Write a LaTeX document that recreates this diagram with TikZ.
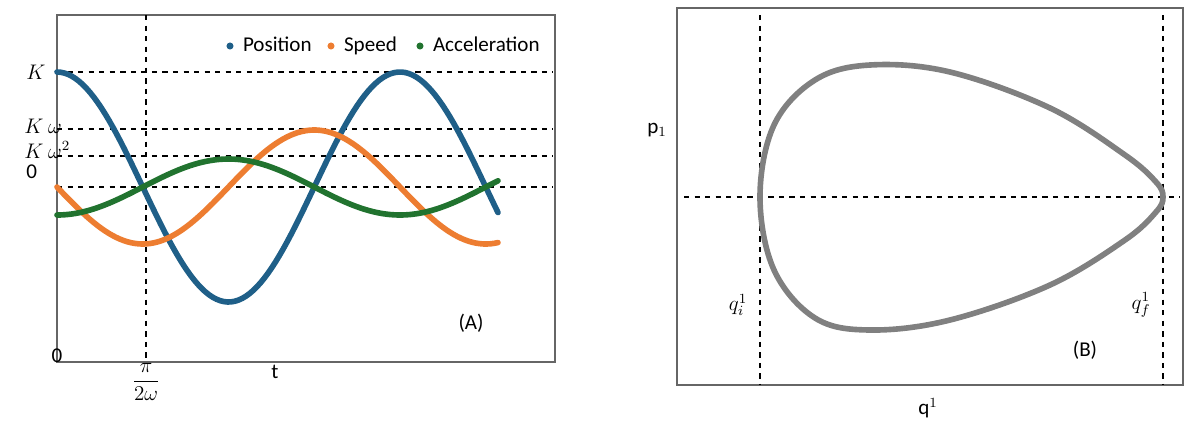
\documentclass[tikz,border=0pt]{standalone}
\usepackage{amsmath}
\usepackage{fontspec}
\setmainfont{Carlito}
\usetikzlibrary{positioning}
\definecolor{posblue}{HTML}{1F5F88}
\definecolor{spdorange}{HTML}{ED7D31}
\definecolor{accgreen}{HTML}{21732F}
\tikzset{
    guide/.style = {dashed, black, line width=0.9pt},
    frame/.style = {draw=black!60, line width=0.6pt},
    curve/.style = {line width=3.2pt, line cap=round},
    textnode/.style = {draw=none, fill=none, inner sep=0pt, font=\large},
    legtext/.style = {textnode, text height=1.6ex, text depth=0.4ex},
    legdot/.style = {circle, fill, inner sep=0pt, minimum size=4pt}
}
\begin{document}
\begin{tikzpicture}[x=0.02cm, y=-0.02cm]
    \useasboundingbox (0,0) rectangle (1200,434);

    % panel (A)
    \draw [frame] (57,15) rectangle (555,362);
    \foreach \yy in {72,129,156,187}
        \draw [guide] (57,\yy) -- (553,\yy);
    \coordinate (vtop) at (146,15);
    \coordinate (vbot) at (146,395);
    \draw [guide] (vtop) -- (vbot);

    \draw [curve, posblue] plot[domain=57:498, samples=120] (\x, {187-115*cos(deg((\x-57)/343*2*pi))});
    \draw [curve, spdorange] plot[domain=57:498, samples=120] (\x, {187+57*sin(deg((\x-57)/343*2*pi))});
    \draw [curve, accgreen] plot[domain=57:498, samples=120] (\x, {187+28*cos(deg((\x-57)/343*2*pi))});

    \node [textnode, anchor=west, name=lK] at (26,72) {$K$};
    \node [textnode, anchor=west, name=lKw] at (24,126) {$K\ \omega$};
    \node [textnode, anchor=west, name=lKww] at (24,150) {$K\ \omega^2$};
    \node [textnode, anchor=west, name=lzero] at (26,172) {0};
    \node [textnode, name=lorig] at (57,356) {0};
    \node [textnode, fill=white, name=lpi] at (146,382) {$\dfrac{\pi}{2\omega}$};
    \node [textnode, name=lt] at (275,372) {t};
    \node [textnode, name=lA] at (471,323) {(A)};

    \node [legdot, posblue, name=dpos] at (230,46) {};
    \node [legtext, right=5pt of dpos] (tpos) {Position};
    \node [legdot, spdorange, name=dspd] at (331,46) {};
    \node [legtext, right=5pt of dspd] (tspd) {Speed};
    \node [legdot, accgreen, name=dacc] at (420,46) {};
    \node [legtext, right=5pt of dacc] (tacc) {Acceleration};

    % panel (B)
    \draw [frame] (677,8) rectangle (1183,385);
    \coordinate (hl) at (684,197);
    \coordinate (hr) at (1180,197);
    \draw [guide] (hl) -- (hr);
    \coordinate (qitop) at (760,15);
    \coordinate (qibot) at (760,385);
    \draw [guide] (qitop) -- (qibot);
    \coordinate (qftop) at (1163,15);
    \coordinate (qfbot) at (1163,385);
    \draw [guide] (qftop) -- (qfbot);

    \draw [line width=3.2pt, black!50] plot[smooth cycle, tension=0.6] coordinates {
        (760,197) (774,125) (815,80) (870,65) (950,72) (1050,108) (1125,155) (1156,182) (1163,197)
        (1156,212) (1125,240) (1050,285) (950,320) (870,330) (815,318) (774,270)};

    \node [textnode, name=lp] at (657,130) {p$_1$};
    \node [textnode, name=lq] at (928,408) {q$^1$};
    \node [textnode, name=lqi] at (738,305) {$q_i^1$};
    \node [textnode, name=lqf] at (1141,305) {$q_f^1$};
    \node [textnode, name=lB] at (1085,350) {(B)};
\end{tikzpicture}
\end{document}
